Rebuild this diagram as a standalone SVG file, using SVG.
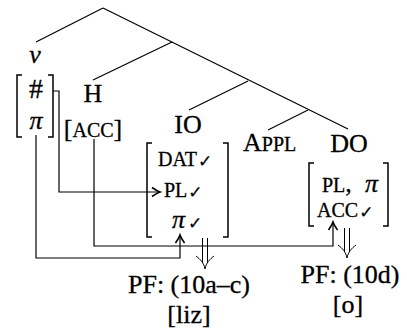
<svg xmlns="http://www.w3.org/2000/svg" width="407" height="331" viewBox="0 0 407 331">
<style>
text{font-family:"Liberation Serif","Times New Roman",serif;font-size:26px;fill:#000;stroke:#000;stroke-width:0.3}
.sc{font-size:20px}
.ck{font-family:"DejaVu Sans",sans-serif;font-size:17px;stroke-width:0.2}
.it{font-style:italic}
.big{font-size:28px}
.ln{fill:none;stroke:#000;stroke-width:1.2}
.br{fill:none;stroke:#000;stroke-width:1.5}
.dbl{fill:none;stroke:#000;stroke-width:1}
</style>
<defs>
<marker id="ah" viewBox="-10 -6 12 12" refX="0" refY="0" markerWidth="12" markerHeight="12" markerUnits="userSpaceOnUse" orient="auto">
<path d="M-8,-4.5 Q-3,-1 0,0 Q-3,1 -8,4.5" fill="none" stroke="#000" stroke-width="1.6"/>
</marker>
</defs>
<g id="tree" class="ln">
<path d="M103,8 L36,42"/>
<path d="M103,8 L348,129"/>
<path d="M172,42 L93,80"/>
<path d="M248,81 L189,110"/>
<path d="M308,110 L268,130"/>
</g>
<g id="node-v">
<text x="35" y="63" text-anchor="middle" class="it">v</text>
<path class="br" d="M22,75 H17 V137 H22 M48,75 H53 V137 H48"/>
<text x="36" y="98" text-anchor="middle" class="big">#</text>
<text x="36" y="129" text-anchor="middle" class="it">π</text>
</g>
<g id="node-H">
<text x="93" y="102" text-anchor="middle">H</text>
<text x="93" y="137" text-anchor="middle">[<tspan class="sc">ACC</tspan>]</text>
</g>
<g id="node-IO">
<text x="188" y="133" text-anchor="middle">IO</text>
<path class="br" d="M152,143 H147 V237 H152 M223,143 H228 V237 H223"/>
<text x="158" y="166" class="sc">DAT<tspan class="ck" dx="1" dy="1">✓</tspan></text>
<text x="164" y="197" class="sc">PL<tspan class="ck" dx="1" dy="1">✓</tspan></text>
<text x="172" y="228" class="it">π<tspan class="ck" font-style="normal" dx="3" dy="1">✓</tspan></text>
</g>
<g id="node-Appl">
<text x="243" y="151">A<tspan class="sc">PPL</tspan></text>
</g>
<g id="node-DO">
<text x="349" y="152" text-anchor="middle">DO</text>
<path class="br" d="M314,163 H309 V226 H314 M383,163 H388 V226 H383"/>
<text x="322" y="192"><tspan class="sc">PL</tspan>,</text>
<text x="365" y="192" class="it">π</text>
<text x="317" y="217" class="sc">ACC<tspan class="ck" dx="1" dy="1">✓</tspan></text>
</g>
<g id="node-PF1">
<text x="189" y="293" text-anchor="middle">PF: (10a–c)</text>
<text x="189" y="323" text-anchor="middle">[liz]</text>
</g>
<g id="node-PF2">
<text x="350" y="283" text-anchor="middle">PF: (10d)</text>
<text x="348" y="313" text-anchor="middle">[o]</text>
</g>
<g id="connectors">
<path class="ln" d="M53,91 H59 V192 H160" marker-end="url(#ah)"/>
<path class="ln" d="M36,135 V258 H180 V235" marker-end="url(#ah)"/>
<path class="ln" d="M94,139 V246 H333 V222" marker-end="url(#ah)"/>
<path class="dbl" d="M202.5,238 V263 M207.5,238 V263 M196,256 C200,259 204,263 205,269 C206,263 210,259 214,256"/>
<path class="dbl" d="M344.5,228 V252 M349.5,228 V252 M338,245 C342,248 346,252 347,258 C348,252 352,248 356,245"/>
</g>
</svg>
